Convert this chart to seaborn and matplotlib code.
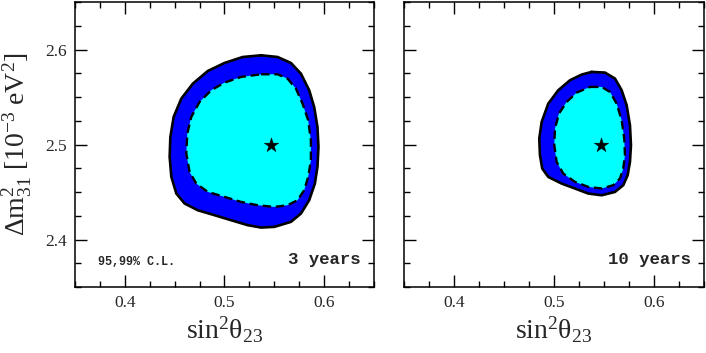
import numpy as np
import pandas as pd
import matplotlib
matplotlib.use("Agg")
import matplotlib.pyplot as plt
from matplotlib.ticker import MultipleLocator
import seaborn as sns

# ---- data ----
best_fit_x = [0.547]
best_fit_y = [2.500]

# 3 years panel: 99% C.L. (outer) and 95% C.L. (inner) contours
y3_99_x = [0.5367, 0.5533, 0.5667, 0.5767, 0.585, 0.590, 0.5933, 0.5943, 0.5933, 0.5907,
           0.585, 0.5767, 0.5667, 0.550, 0.5367, 0.5233, 0.5067, 0.490, 0.4733, 0.460,
           0.4517, 0.4467, 0.445, 0.4457, 0.449, 0.4567, 0.4683, 0.4833, 0.500, 0.5183]
y3_99_y = [2.5940, 2.5922, 2.5859, 2.5747, 2.5572, 2.5396, 2.5186, 2.4975, 2.4765, 2.4589,
           2.4414, 2.4273, 2.4186, 2.4133, 2.4126, 2.4151, 2.4203, 2.4256, 2.4308, 2.4379,
           2.4484, 2.4659, 2.4870, 2.5080, 2.5291, 2.5484, 2.5642, 2.5775, 2.5859, 2.5922]
y3_95_x = [0.5367, 0.5533, 0.5633, 0.5717, 0.5783, 0.584, 0.5867, 0.5867, 0.584, 0.580,
           0.5733, 0.5633, 0.550, 0.5333, 0.5167, 0.500, 0.4833, 0.4717, 0.465, 0.4617,
           0.4627, 0.4667, 0.475, 0.4867, 0.500, 0.5167]
y3_95_y = [2.5740, 2.5740, 2.5694, 2.5589, 2.5431, 2.5256, 2.5045, 2.4835, 2.4659, 2.4519,
           2.4414, 2.4361, 2.4343, 2.4361, 2.4396, 2.4449, 2.4501, 2.4589, 2.4712, 2.4905,
           2.5115, 2.5291, 2.5449, 2.5572, 2.5652, 2.5712]

# 10 years panel
y10_99_x = [0.5377, 0.551, 0.561, 0.5677, 0.5727, 0.576, 0.577, 0.576, 0.5737, 0.5693,
            0.561, 0.5477, 0.5343, 0.521, 0.5077, 0.4943, 0.4883, 0.486, 0.4853, 0.4877,
            0.4943, 0.5043, 0.516, 0.5277]
y10_99_y = [2.5765, 2.5758, 2.5695, 2.5572, 2.5414, 2.5203, 2.4993, 2.4817, 2.4677, 2.4572,
            2.4501, 2.4466, 2.4484, 2.4537, 2.4589, 2.4659, 2.4747, 2.4887, 2.5063, 2.5238,
            2.5431, 2.5572, 2.5677, 2.5737]
y10_95_x = [0.536, 0.5477, 0.556, 0.5627, 0.5677, 0.5703, 0.571, 0.5693, 0.566, 0.5593,
            0.5477, 0.5343, 0.521, 0.5093, 0.5027, 0.5003, 0.501, 0.505, 0.5127, 0.5227]
y10_95_y = [2.5607, 2.5607, 2.5554, 2.5431, 2.5256, 2.5063, 2.4887, 2.4747, 2.4642, 2.4572,
            2.4537, 2.4554, 2.4607, 2.4694, 2.4817, 2.4993, 2.5168, 2.5326, 2.5449, 2.5547]

panel_labels = ["3 years", "10 years"]
cl_label = "95,99% C.L."
x_ticks = [0.4, 0.5, 0.6]
y_ticks = [2.4, 2.5, 2.6]

# ---- style ----
sns.set_theme(style="white")
plt.rcParams.update({
    "font.family": "serif",
    "font.serif": ["Liberation Serif", "DejaVu Serif"],
    "mathtext.fontset": "custom",
    "mathtext.rm": "Liberation Serif",
    "mathtext.it": "Liberation Serif:italic",
    "mathtext.bf": "Liberation Serif:bold",
    "axes.edgecolor": "black",
    "axes.linewidth": 1.1,
})

fig = plt.figure(figsize=(7.06, 3.53), dpi=100)
ax1 = fig.add_axes([0.1062, 0.187, 0.4235, 0.807])
ax2 = fig.add_axes([0.5722, 0.187, 0.4249, 0.807])


def closed(xs, ys):
    return pd.DataFrame({"x": list(xs) + [xs[0]], "y": list(ys) + [ys[0]]})


panels = [
    (ax1, y3_99_x, y3_99_y, y3_95_x, y3_95_y, panel_labels[0]),
    (ax2, y10_99_x, y10_99_y, y10_95_x, y10_95_y, panel_labels[1]),
]

for ax, ox, oy, ix, iy, lab in panels:
    outer = closed(ox, oy)
    inner = closed(ix, iy)
    ax.fill(outer["x"], outer["y"], color="#0000ff", lw=0, zorder=1)
    ax.fill(inner["x"], inner["y"], color="#00ffff", lw=0, zorder=2)
    sns.lineplot(data=outer, x="x", y="y", sort=False, estimator=None, ax=ax,
                 color="black", linewidth=1.9, zorder=3,
                 solid_joinstyle="round", solid_capstyle="round")
    sns.lineplot(data=inner, x="x", y="y", sort=False, estimator=None, ax=ax,
                 color="black", linewidth=1.7, linestyle=(0, (3.6, 2.0)), zorder=3,
                 dash_joinstyle="round")
    sns.scatterplot(x=best_fit_x, y=best_fit_y, ax=ax, marker="*", s=120,
                    color="black", edgecolor="black", linewidth=0.3, zorder=4)

    ax.set_xlim(0.35, 0.65)
    ax.set_ylim(2.35, 2.65)
    ax.set_xticks(x_ticks)
    ax.set_yticks(y_ticks)
    ax.xaxis.set_minor_locator(MultipleLocator(0.025))
    ax.yaxis.set_minor_locator(MultipleLocator(0.025))
    ax.tick_params(which="both", direction="in", top=True, right=True,
                   bottom=True, left=True, color="black", width=1.0)
    ax.tick_params(which="major", length=8.5, labelsize=12.5, pad=6)
    ax.tick_params(which="minor", length=4.2)
    ax.set_xticklabels([f"{t:g}" for t in x_ticks])
    for s in ax.spines.values():
        s.set_visible(True)
        s.set_color("black")
        s.set_linewidth(1.1)
    ax.set_xlabel(r"$\mathregular{sin^2\theta_{23}}$", fontsize=20, labelpad=2)
    ax.set_ylabel("")
    ax.text(0.637, 2.379, lab, ha="right", va="center", fontsize=12.5,
            fontweight="bold", family=["Liberation Mono", "DejaVu Sans Mono"])

ax1.set_yticklabels([f"{t:g}" for t in y_ticks])
ax2.set_yticklabels([])
ax1.set_ylabel(r"$\mathregular{\Delta m^2_{31}\ [10^{-3}\ eV^2]}$", fontsize=20, labelpad=8)
ax1.text(0.373, 2.376, cl_label, ha="left", va="center", fontsize=8.5,
         fontweight="bold", family=["Liberation Mono", "DejaVu Sans Mono"])

fig.savefig("out.png", dpi=100)
